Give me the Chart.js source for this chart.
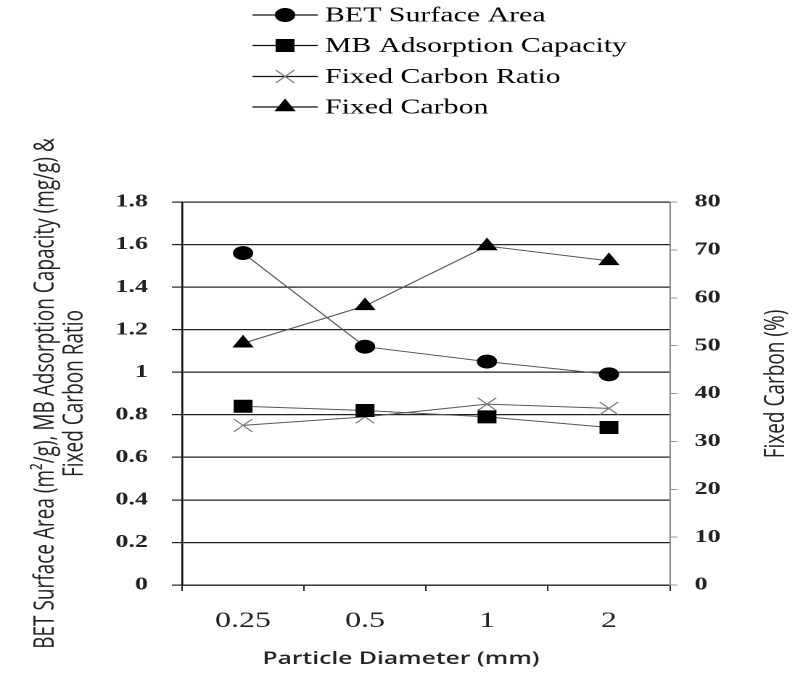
<!DOCTYPE html>
<html><head><meta charset="utf-8">
<script src="https://cdn.jsdelivr.net/npm/chart.js@4"></script>
<style>
html,body{margin:0;padding:0;background:#fff;overflow:hidden;width:795px;height:675px;}
#wrap{position:absolute;left:0;top:0;width:548px;height:675px;transform:scaleX(1.4507);transform-origin:0 0;}
</style></head><body>
<div id="wrap"><canvas id="c"></canvas></div>
<script>
const categories = ['0.25', '0.5', '1', '2'];
const betSurfaceArea = [1.56, 1.12, 1.05, 0.99];
const mbAdsorptionCapacity = [0.84, 0.82, 0.79, 0.74];
const fixedCarbonRatio = [0.75, 0.79, 0.85, 0.83];
const fixedCarbon = [50.5, 58.3, 70.8, 67.7];
const leftTicks = ['0', '0.2', '0.4', '0.6', '0.8', '1', '1.2', '1.4', '1.6', '1.8'];
const rightTicks = ['0', '10', '20', '30', '40', '50', '60', '70', '80'];
const seriesNames = ['BET Surface Area', 'MB Adsorption Capacity', 'Fixed Carbon Ratio', 'Fixed Carbon'];
const leftTitle = ['BET Surface Area (m\u00B2/g), MB Adsorption Capacity (mg/g) &', 'Fixed Carbon Ratio'];
const rightTitle = 'Fixed Carbon (%)';
const xTitle = 'Particle Diameter (mm)';

const legendPlugin = {
  id: 'stackLegend',
  afterDraw(chart) {
    const ctx = chart.ctx;
    const rows = [15, 45.5, 76.5, 107];
    chart.data.datasets.forEach((ds, i) => {
      const y = rows[i];
      ctx.save();
      ctx.strokeStyle = '#111';
      ctx.lineWidth = 1.2;
      ctx.beginPath();
      ctx.moveTo(174, y);
      ctx.lineTo(219, y);
      ctx.stroke();
      ctx.fillStyle = ds.pointBackgroundColor;
      ctx.strokeStyle = ds.pointBorderColor;
      ctx.lineWidth = ds.pointBorderWidth;
      Chart.helpers.drawPoint(ctx, {pointStyle: ds.pointStyle, rotation: 0, radius: ds.pointRadius, borderWidth: ds.pointBorderWidth}, 196.5, y);
      ctx.fillStyle = '#000';
      ctx.font = '20.6px "Liberation Serif"';
      ctx.textAlign = 'left';
      ctx.textBaseline = 'middle';
      ctx.fillText(ds.label, 224, y + 1);
      ctx.restore();
    });
  }
};

const extraTitlesPlugin = {
  id: 'extraTitles',
  afterDraw(chart) {
    const ctx = chart.ctx;
    ctx.save();
    ctx.translate(535, 384);
    ctx.rotate(-Math.PI / 2);
    ctx.fillStyle = '#222';
    ctx.font = '19px "Open Sans"';
    ctx.textAlign = 'center';
    ctx.textBaseline = 'middle';
    ctx.fillText(rightTitle, 0, 0);
    ctx.restore();
    ctx.save();
    ctx.fillStyle = '#222';
    ctx.font = '600 17px "Open Sans"';
    ctx.textAlign = 'center';
    ctx.textBaseline = 'middle';
    ctx.fillText(xTitle, 276.4, 659);
    ctx.restore();
  }
};

new Chart(document.getElementById('c'), {
  type: 'line',
  data: {
    labels: categories,
    datasets: [
      {label: seriesNames[0], data: betSurfaceArea, yAxisID: 'y', pointStyle: 'circle', pointRadius: 6.5,
       borderColor: '#555', borderWidth: 1, pointBackgroundColor: '#000', pointBorderColor: '#000', pointBorderWidth: 1},
      {label: seriesNames[1], data: mbAdsorptionCapacity, yAxisID: 'y', pointStyle: 'rect', pointRadius: 8.5,
       borderColor: '#555', borderWidth: 1, pointBackgroundColor: '#000', pointBorderColor: '#000', pointBorderWidth: 1},
      {label: seriesNames[2], data: fixedCarbonRatio, yAxisID: 'y', pointStyle: 'crossRot', pointRadius: 9,
       borderColor: '#555', borderWidth: 1, pointBackgroundColor: '#777', pointBorderColor: '#777', pointBorderWidth: 1},
      {label: seriesNames[3], data: fixedCarbon, yAxisID: 'y2', pointStyle: 'triangle', pointRadius: 7.5,
       borderColor: '#555', borderWidth: 1, pointBackgroundColor: '#000', pointBorderColor: '#000', pointBorderWidth: 1}
    ]
  },
  options: {
    responsive: true,
    maintainAspectRatio: false,
    devicePixelRatio: 2,
    animation: false,
    layout: {padding: {top: 202, left: 0, right: 0, bottom: 0}},
    plugins: {legend: {display: false}, tooltip: {enabled: false}},
    elements: {line: {tension: 0}},
    scales: {
      x: {
        type: 'category',
        offset: true,
        grid: {offset: true, drawOnChartArea: false, drawTicks: true, tickLength: 6, color: '#222', lineWidth: 1},
        border: {display: true, color: '#222', width: 1.3},
        ticks: {font: {family: '"Liberation Serif"', size: 22}, color: '#222', padding: 17, maxRotation: 0},
        afterFit(s) { s.height = 90; }
      },
      y: {
        position: 'left',
        min: 0, max: 1.8,
        ticks: {stepSize: 0.2, callback: (v, i) => leftTicks[i], font: {family: '"Liberation Serif"', size: 18, weight: 'bold'}, color: '#222', padding: 16.5},
        grid: {color: '#222', lineWidth: 1.2, tickLength: 7},
        border: {color: '#111', width: 1.3},
        title: {display: true, text: leftTitle, font: {family: '"Open Sans"', size: 19, lineHeight: 1.05}, color: '#222', padding: {top: 21.7, bottom: 0}},
        afterFit(s) { s.width = 125.5; }
      },
      y2: {
        position: 'right',
        min: 0, max: 80,
        ticks: {stepSize: 10, callback: (v, i) => rightTicks[i], font: {family: '"Liberation Serif"', size: 18, weight: 'bold'}, color: '#222', padding: 12},
        grid: {drawOnChartArea: false, tickLength: 5, color: '#999'},
        border: {color: '#888', width: 1},
        afterFit(s) { s.width = 86.2; }
      }
    }
  },
  plugins: [legendPlugin, extraTitlesPlugin]
});
</script>
</body></html>
